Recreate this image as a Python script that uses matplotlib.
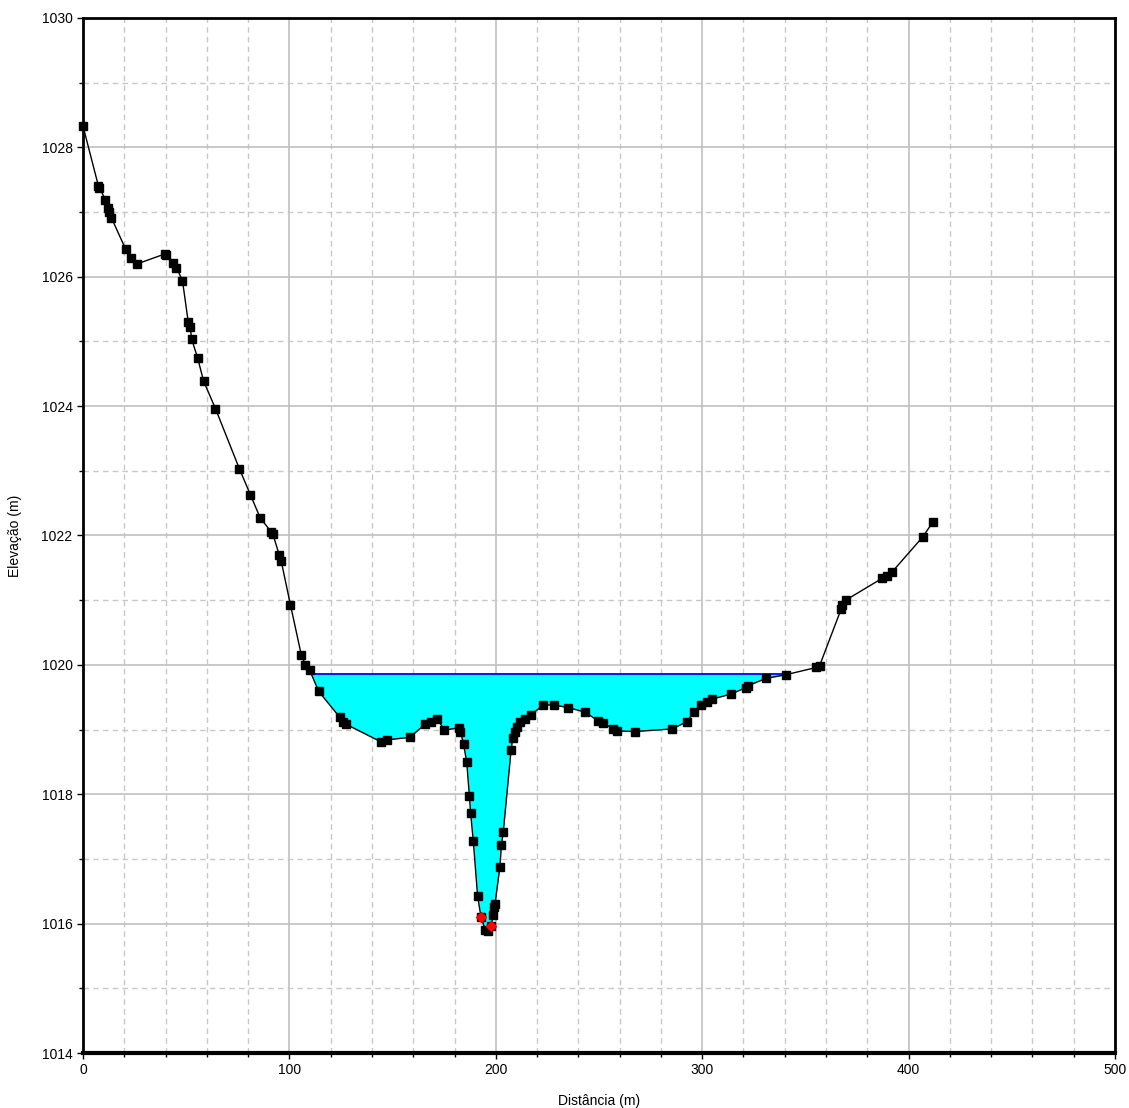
import matplotlib
matplotlib.use("Agg")
import matplotlib.pyplot as plt
import numpy as np
from matplotlib.ticker import MultipleLocator

plt.rcParams["font.family"] = ["Liberation Sans", "DejaVu Sans"]

# ground profile (station, elevation)
station = [0.0, 7.5, 8.0, 10.9, 11.9, 12.8, 13.8, 20.6, 23.5, 26.4, 39.5, 40.0,
           43.8, 45.3, 48.2, 51.0, 52.0, 52.6, 55.5, 58.4, 64.2, 75.8, 81.1,
           85.9, 91.1, 92.0, 95.1, 96.0, 100.5, 105.8, 107.8, 109.8, 114.2,
           124.4, 125.9, 127.6, 144.4, 147.1, 158.3, 165.7, 168.8, 171.7,
           175.0, 182.4, 182.9, 184.4, 185.9, 187.2, 187.8, 189.1, 191.2,
           192.8, 194.9, 196.0, 197.7, 198.8, 199.3, 199.6, 202.0, 202.7,
           203.6, 207.4, 208.2, 209.2, 210.1, 211.8, 214.2, 217.1, 223.0,
           228.0, 235.1, 243.2, 249.3, 252.0, 257.0, 258.5, 267.5, 285.3,
           292.6, 295.8, 299.4, 302.1, 304.7, 314.1, 321.2, 322.4, 330.8,
           340.8, 355.3, 356.9, 367.3, 367.9, 369.5, 387.3, 389.7, 392.1,
           406.9, 411.8]
elevation = [1028.33, 1027.40, 1027.37, 1027.19, 1027.06, 1027.00, 1026.91,
             1026.43, 1026.29, 1026.20, 1026.35, 1026.34, 1026.21, 1026.14,
             1025.94, 1025.30, 1025.22, 1025.04, 1024.75, 1024.39, 1023.96,
             1023.03, 1022.63, 1022.27, 1022.06, 1022.02, 1021.70, 1021.61,
             1020.93, 1020.15, 1020.00, 1019.92, 1019.59, 1019.19, 1019.12,
             1019.08, 1018.81, 1018.84, 1018.88, 1019.08, 1019.11, 1019.17,
             1018.99, 1019.03, 1018.97, 1018.77, 1018.50, 1017.98, 1017.71,
             1017.28, 1016.42, 1016.11, 1015.90, 1015.88, 1015.97, 1016.14,
             1016.26, 1016.30, 1016.88, 1017.21, 1017.41, 1018.68, 1018.87,
             1018.97, 1019.04, 1019.11, 1019.17, 1019.23, 1019.38, 1019.38,
             1019.34, 1019.27, 1019.14, 1019.10, 1019.01, 1018.98, 1018.97,
             1019.01, 1019.12, 1019.27, 1019.38, 1019.43, 1019.47, 1019.55,
             1019.65, 1019.68, 1019.79, 1019.85, 1019.96, 1019.99, 1020.86,
             1020.93, 1021.00, 1021.34, 1021.38, 1021.44, 1021.98, 1022.21]

# bank stations (red)
bank_station = [192.8, 197.7]
bank_elevation = [1016.11, 1015.97]

water_surface = 1019.86


def wet_extent(x, z, ws):
    """Find where the water surface crosses the ground on each side."""
    x = np.asarray(x)
    z = np.asarray(z)
    low = int(np.argmin(z))
    left = low
    while left > 0 and z[left - 1] < ws:
        left -= 1
    right = low
    while right < len(z) - 1 and z[right + 1] < ws:
        right += 1
    xl = np.interp(ws, [z[left], z[left - 1]], [x[left], x[left - 1]])
    xr = np.interp(ws, [z[right], z[right + 1]], [x[right], x[right + 1]])
    xs = np.concatenate([[xl], x[left:right + 1], [xr]])
    zs = np.concatenate([[ws], z[left:right + 1], [ws]])
    return xs, zs


fig = plt.figure(figsize=(11.29, 11.08), dpi=100)
ax = fig.add_axes([0.0735, 0.0496, 0.9141, 0.9342])

xs, zs = wet_extent(station, elevation, water_surface)
ax.fill_between(xs, zs, water_surface, color="#00FFFF", lw=0, zorder=2)
ax.plot([xs[0], xs[-1]], [water_surface, water_surface], color="#0000FF", lw=1.3, zorder=3)

ax.plot(station, elevation, color="black", lw=1, marker="s", ms=5.5,
        markerfacecolor="black", markeredgecolor="black", zorder=4, clip_on=False)
ax.plot(bank_station, bank_elevation, ls="none", marker="D", ms=5,
        color="#FF0000", zorder=5)

ax.set_xlim(0, 500)
ax.set_ylim(1014, 1030)
ax.xaxis.set_major_locator(MultipleLocator(100))
ax.xaxis.set_minor_locator(MultipleLocator(20))
ax.yaxis.set_major_locator(MultipleLocator(2))
ax.yaxis.set_minor_locator(MultipleLocator(1))

ax.grid(which="major", color="#C0C0C0", lw=1.2, ls="-", zorder=0)
ax.grid(which="minor", color="#C8C8C8", lw=1, ls=(0, (4, 3)), zorder=0)
ax.set_axisbelow(True)

for side in ["left", "bottom", "top", "right"]:
    ax.spines[side].set_linewidth(2)
ax.spines["bottom"].set_linewidth(3)

ax.tick_params(which="both", direction="out", length=4, width=1, labelsize=10)
ax.tick_params(which="minor", length=3)

ax.set_xlabel("Distância (m)", fontsize=10, labelpad=12)
ax.set_ylabel("Elevação (m)", fontsize=10, labelpad=14)

fig.savefig("out.png", dpi=100)
